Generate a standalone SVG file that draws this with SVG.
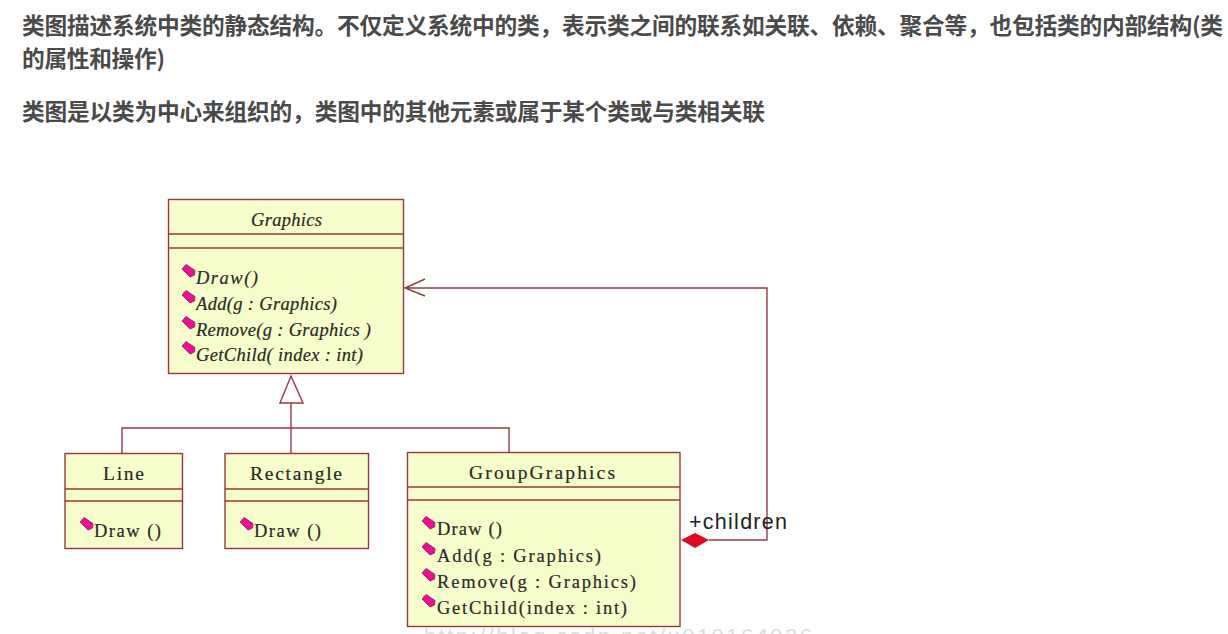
<svg xmlns="http://www.w3.org/2000/svg" width="1228" height="634" viewBox="0 0 1228 634">
<style>
.h{font:700 22.7px "Noto Sans CJK SC","Noto Sans",sans-serif;fill:#4a4a4a}
.box{fill:#f8fdcc;stroke:#963a42;stroke-width:1.4}
.ln{fill:none;stroke:#963a42;stroke-width:1.4}
.t{font:18.5px "Liberation Serif","DejaVu Serif",serif;fill:#262b25;stroke:#262b25;stroke-width:.2}
.n{font:19.5px "Liberation Serif","DejaVu Serif",serif;fill:#262b25;stroke:#262b25;stroke-width:.2}
.i{font-style:italic}
.m{fill:#f00c98;stroke:#8a2a5c;stroke-width:.9}
</style>
<defs><path id="op" class="m" d="M-7-2-3-6.500 6-.5 5.500 4 1 6Z"/></defs>
<rect width="1228" height="634" fill="#fff"/>
<text class="h" x="22" y="34" textLength="1201" lengthAdjust="spacing">类图描述系统中类的静态结构。不仅定义系统中的类，表示类之间的联系如关联、依赖、聚合等，也包括类的内部结构(类</text>
<text class="h" x="22" y="67" textLength="143" lengthAdjust="spacing">的属性和操作)</text>
<text class="h" x="22" y="120" textLength="743" lengthAdjust="spacing">类图是以类为中心来组织的，类图中的其他元素或属于某个类或与类相关联</text>
<text x="424" y="644" font-family="Liberation Sans,sans-serif" font-size="22" fill="#dcdcdc" textLength="388">http://blog.csdn.net/u010164936</text>
<g id="connectors">
<path class="ln" d="M291 403V428M122 454V428H509V453M291 428V454"/>
<path class="ln" d="M291 376 303 403H280Z" style="fill:#fff"/>
<path class="ln" d="M709 540H767V288H405M425 279 405 288 425 296"/>
<path d="M681 540 695 533 709 540 695 548Z" fill="#dc0a23"/>
</g>
<g id="graphics">
<rect class="box" x="168.500" y="199.500" width="235" height="174"/>
<path class="ln" d="M168.500 234H403.500M168.500 248H403.500"/>
<text class="t i" x="251" y="226" textLength="71">Graphics</text>
<use href="#op" x="189" y="271"/><use href="#op" x="189" y="297"/><use href="#op" x="189" y="323"/><use href="#op" x="189" y="348"/>
<text class="t i" x="196" y="284" textLength="62">Draw()</text>
<text class="t i" x="196" y="310" textLength="141">Add(g : Graphics)</text>
<text class="t i" x="196" y="336" textLength="175">Remove(g : Graphics )</text>
<text class="t i" x="196" y="361" textLength="167">GetChild( index : int)</text>
</g>
<g id="line">
<rect class="box" x="65" y="453.500" width="117.500" height="95"/>
<path class="ln" d="M65 489H182.500M65 501H182.500"/>
<text class="n" x="103" y="480" textLength="41">Line</text>
<use href="#op" x="87" y="524"/>
<text class="t" x="94" y="537" textLength="67">Draw ()</text>
</g>
<g id="rectangle">
<rect class="box" x="225" y="453.500" width="143.500" height="95"/>
<path class="ln" d="M225 489H368.500M225 501H368.500"/>
<text class="n" x="250" y="480" textLength="92">Rectangle</text>
<use href="#op" x="247" y="524"/>
<text class="t" x="254" y="537" textLength="67">Draw ()</text>
</g>
<g id="groupgraphics">
<rect class="box" x="407.500" y="452.500" width="272.500" height="174"/>
<path class="ln" d="M407.500 487H680M407.500 500H680"/>
<text class="n" x="469" y="479" textLength="146">GroupGraphics</text>
<use href="#op" x="429" y="523"/><use href="#op" x="429" y="549"/><use href="#op" x="429" y="575"/><use href="#op" x="429" y="601"/>
<text class="t" x="437" y="535" textLength="65">Draw ()</text>
<text class="t" x="437" y="562" textLength="164">Add(g : Graphics)</text>
<text class="t" x="437" y="588" textLength="199">Remove(g : Graphics)</text>
<text class="t" x="437" y="614" textLength="190">GetChild(index : int)</text>
</g>
<text x="689" y="529" font-family="Liberation Sans,sans-serif" font-size="21.500" fill="#222" textLength="98">+children</text>
</svg>
